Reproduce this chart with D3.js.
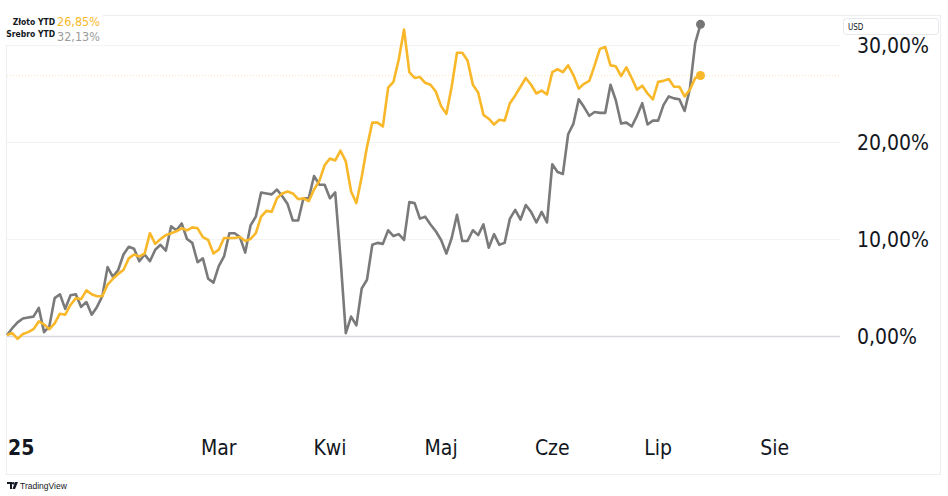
<!DOCTYPE html>
<html><head><meta charset="utf-8">
<script src="https://cdn.jsdelivr.net/npm/d3@7/dist/d3.min.js"></script>
<style>
html,body{margin:0;padding:0;background:#fff;}
svg{display:block;}
</style></head><body>
<svg id="chart" width="948" height="496"></svg>
<script>
// YTD % change per trading day, Jan 2 2025 (bar 0) .. Jul 14 2025 (bar 131)
const gold = [
  0.1, 0.3, -0.3, 0.2, 0.4, 0.7, 1.5, 1.2, 0.7, 1.3,
  2.3, 2.2, 3.2, 3.9, 3.8, 4.7, 4.3, 4.1, 4.1, 5.3,
  5.9, 6.4, 6.8, 8.0, 8.4, 8.2, 8.5, 10.6, 9.5, 10.0,
  10.4, 10.6, 10.8, 11.1, 10.9, 11.2, 11.1, 10.2, 9.9, 8.5,
  8.9, 10.1, 10.1, 10.1, 10.2, 9.8, 10.0, 10.6, 12.3, 12.9,
  12.8, 14.2, 14.7, 14.9, 14.7, 14.1, 14.2, 13.9, 15.1, 16.0,
  17.6, 18.3, 18.1, 19.1, 18.0, 14.9, 13.7, 16.4, 19.5, 22.0,
  22.0, 21.6, 25.6, 26.2, 28.5, 31.6, 27.2, 26.6, 26.7, 26.1,
  25.9, 25.2, 23.7, 22.9, 25.7, 29.2, 29.2, 28.4, 25.9, 25.1,
  22.8, 22.4, 21.8, 22.3, 22.2, 24.0, 24.8, 25.7, 26.6, 25.9,
  25.0, 25.3, 24.9, 27.2, 27.5, 27.2, 27.9, 26.9, 25.5, 26.0,
  26.3, 27.9, 29.6, 29.8, 27.9, 27.8, 26.8, 27.7, 26.6, 25.4,
  25.8, 25.0, 24.4, 26.2, 26.3, 26.5, 25.7, 25.7, 24.7, 25.4,
  26.6, 26.85
];
const silver = [
  0.1, 0.8, 1.4, 1.8, 1.9, 2.0, 2.9, 0.4, 1.0, 3.9,
  4.3, 2.8, 4.2, 4.3, 3.0, 3.5, 2.2, 3.0, 4.1, 7.1,
  6.1, 6.8, 8.4, 9.2, 9.0, 7.7, 8.4, 7.7, 8.9, 9.4,
  8.8, 11.3, 10.9, 11.6, 10.0, 9.6, 7.6, 8.0, 5.9, 5.5,
  7.2, 8.2, 10.6, 10.6, 10.2, 8.6, 11.4, 12.3, 14.8, 14.7,
  14.6, 15.1, 14.4, 13.6, 11.9, 11.9, 14.2, 14.2, 16.5, 15.6,
  15.6, 14.2, 14.8, 8.0, 0.3, 2.0, 1.1, 4.9, 5.8, 9.4,
  9.6, 9.5, 10.9, 10.3, 10.5, 9.9, 13.8, 13.7, 12.1, 12.3,
  11.5, 10.8, 9.9, 8.5, 10.1, 12.5, 9.8, 9.8, 10.9, 10.4,
  11.5, 9.1, 10.5, 9.4, 9.6, 12.1, 13.0, 12.0, 13.5, 12.8,
  11.7, 12.8, 11.7, 17.7, 16.9, 16.7, 20.8, 21.9, 24.4, 23.6,
  22.7, 23.1, 23.0, 23.0, 25.9, 24.3, 21.9, 22.0, 21.6, 22.7,
  24.0, 21.8, 22.2, 22.2, 23.8, 24.7, 24.5, 24.4, 23.2, 25.5,
  30.2, 32.13
];
const seriesNames = ["Złoto YTD", "Srebro YTD"];
const lastValueLabels = ["26,85%", "32,13%"];
const timeTickLabels = ["25", "Mar", "Kwi", "Maj", "Cze", "Lip", "Sie"];
const timeTickBars = [0, 40, 61, 82, 103, 123, 145];
const valueTicks = [0, 10, 20, 30];
const valueTickLabels = ["0,00%", "10,00%", "20,00%", "30,00%"];
const currencyLabel = "USD";

const GOLD = "#f8b82a", SILVER = "#7a7a7a";
const paneLeft = 7, paneRight = 840;

const svg = d3.select("#chart");
const x = d3.scaleLinear().domain([0, gold.length - 1]).range([7, 700.5]);
const y = d3.scaleLinear().domain([0, 30]).range([336, 45]);

// pane border
svg.append("rect").attr("x", 6.5).attr("y", 15.5).attr("width", 934).attr("height", 459)
  .attr("fill", "none").attr("stroke", "#eceef2").attr("stroke-width", 1);

// gridlines
svg.append("g").selectAll("line").data(valueTicks).join("line")
  .attr("x1", paneLeft).attr("x2", paneRight)
  .attr("y1", d => y(d) + 0.5).attr("y2", d => y(d) + 0.5)
  .attr("stroke", d => d === 0 ? "#d6d8dd" : "#f2f3f5")
  .attr("stroke-width", d => d === 0 ? 1.6 : 1);

// last value dotted line (gold)
svg.append("line").attr("x1", paneLeft).attr("x2", paneRight)
  .attr("y1", y(gold[gold.length - 1])).attr("y2", y(gold[gold.length - 1]))
  .attr("stroke", GOLD).attr("stroke-opacity", 0.35).attr("stroke-width", 1)
  .attr("stroke-dasharray", "1,2");

const line = d3.line().x((d, i) => x(i)).y(d => y(d));
svg.append("path").datum(silver).attr("d", line).attr("fill", "none")
  .attr("stroke", SILVER).attr("stroke-width", 2.6).attr("stroke-linejoin", "round");
svg.append("path").datum(gold).attr("d", line).attr("fill", "none")
  .attr("stroke", GOLD).attr("stroke-width", 2.6).attr("stroke-linejoin", "round");

svg.append("circle").attr("cx", x(silver.length - 1)).attr("cy", y(silver[silver.length - 1]))
  .attr("r", 4.5).attr("fill", "#767676");
svg.append("circle").attr("cx", x(gold.length - 1)).attr("cy", y(gold[gold.length - 1]))
  .attr("r", 4.5).attr("fill", GOLD);

// price axis labels
const FONT = "'DejaVu Sans Condensed', 'DejaVu Sans', sans-serif";
svg.append("g").selectAll("text").data(valueTicks).join("text")
  .attr("x", 857).attr("y", d => y(d)).attr("dy", "0.36em")
  .attr("font-family", FONT).attr("font-size", 21).attr("fill", "#131722")
  .text((d, i) => valueTickLabels[i]);

// currency box
svg.append("rect").attr("x", 843.5).attr("y", 18.5).attr("width", 95).attr("height", 16).attr("rx", 3)
  .attr("fill", "#fff").attr("stroke", "#e6e8ec");
svg.append("text").attr("x", 848).attr("y", 29.5).attr("font-family", FONT)
  .attr("font-size", 8).attr("fill", "#131722").text(currencyLabel);

// time axis labels
const tg = svg.append("g");
timeTickLabels.forEach((lab, i) => {
  const t = tg.append("text").attr("y", 447).attr("dy", "0.36em")
    .attr("font-family", FONT).attr("font-size", 21).attr("fill", "#131722")
    .attr("font-weight", i === 0 ? "bold" : "normal")
    .attr("text-anchor", "middle").text(lab);
  const w = t.node().getComputedTextLength();
  const cx = Math.max(x(timeTickBars[i]), paneLeft + 1 + w / 2);
  t.attr("x", cx);
});

// legend
svg.append("rect").attr("x", 0).attr("y", 10).attr("width", 103).attr("height", 35).attr("fill", "#fff");
const LF = "'DejaVu Sans Condensed', 'DejaVu Sans', sans-serif";
const legendRows = [{name: seriesNames[0], val: lastValueLabels[0], col: GOLD, yb: 25, vy: 26},
                    {name: seriesNames[1], val: lastValueLabels[1], col: "#9b9b9b", yb: 37, vy: 41}];
legendRows.forEach(r => {
  svg.append("text").attr("x", 55).attr("y", r.yb).attr("text-anchor", "end")
    .attr("font-family", LF).attr("font-weight", "bold").attr("font-size", 8.5)
    .attr("fill", "#131722").text(r.name);
  svg.append("text").attr("x", 57).attr("y", r.vy)
    .attr("font-family", "'Liberation Sans Narrow', 'DejaVu Sans Condensed', sans-serif")
    .attr("font-size", 12.5).attr("fill", r.col).text(r.val);
});

// footer logo
const lg = svg.append("g").attr("transform", "translate(7,482)");
lg.append("path").attr("d", "M0,0 H5 V7 H3 V2 H0 Z").attr("fill", "#131722");
lg.append("circle").attr("cx", 6.2).attr("cy", 1.2).attr("r", 1.2).attr("fill", "#131722");
lg.append("path").attr("d", "M8,0 H11 L8,7 H5.5 Z").attr("fill", "#131722");
svg.append("text").attr("x", 20).attr("y", 489).attr("font-family", "'Liberation Sans Narrow', sans-serif")
  .attr("font-size", 8.5).attr("fill", "#131722").text("TradingView");
</script>
</body></html>
